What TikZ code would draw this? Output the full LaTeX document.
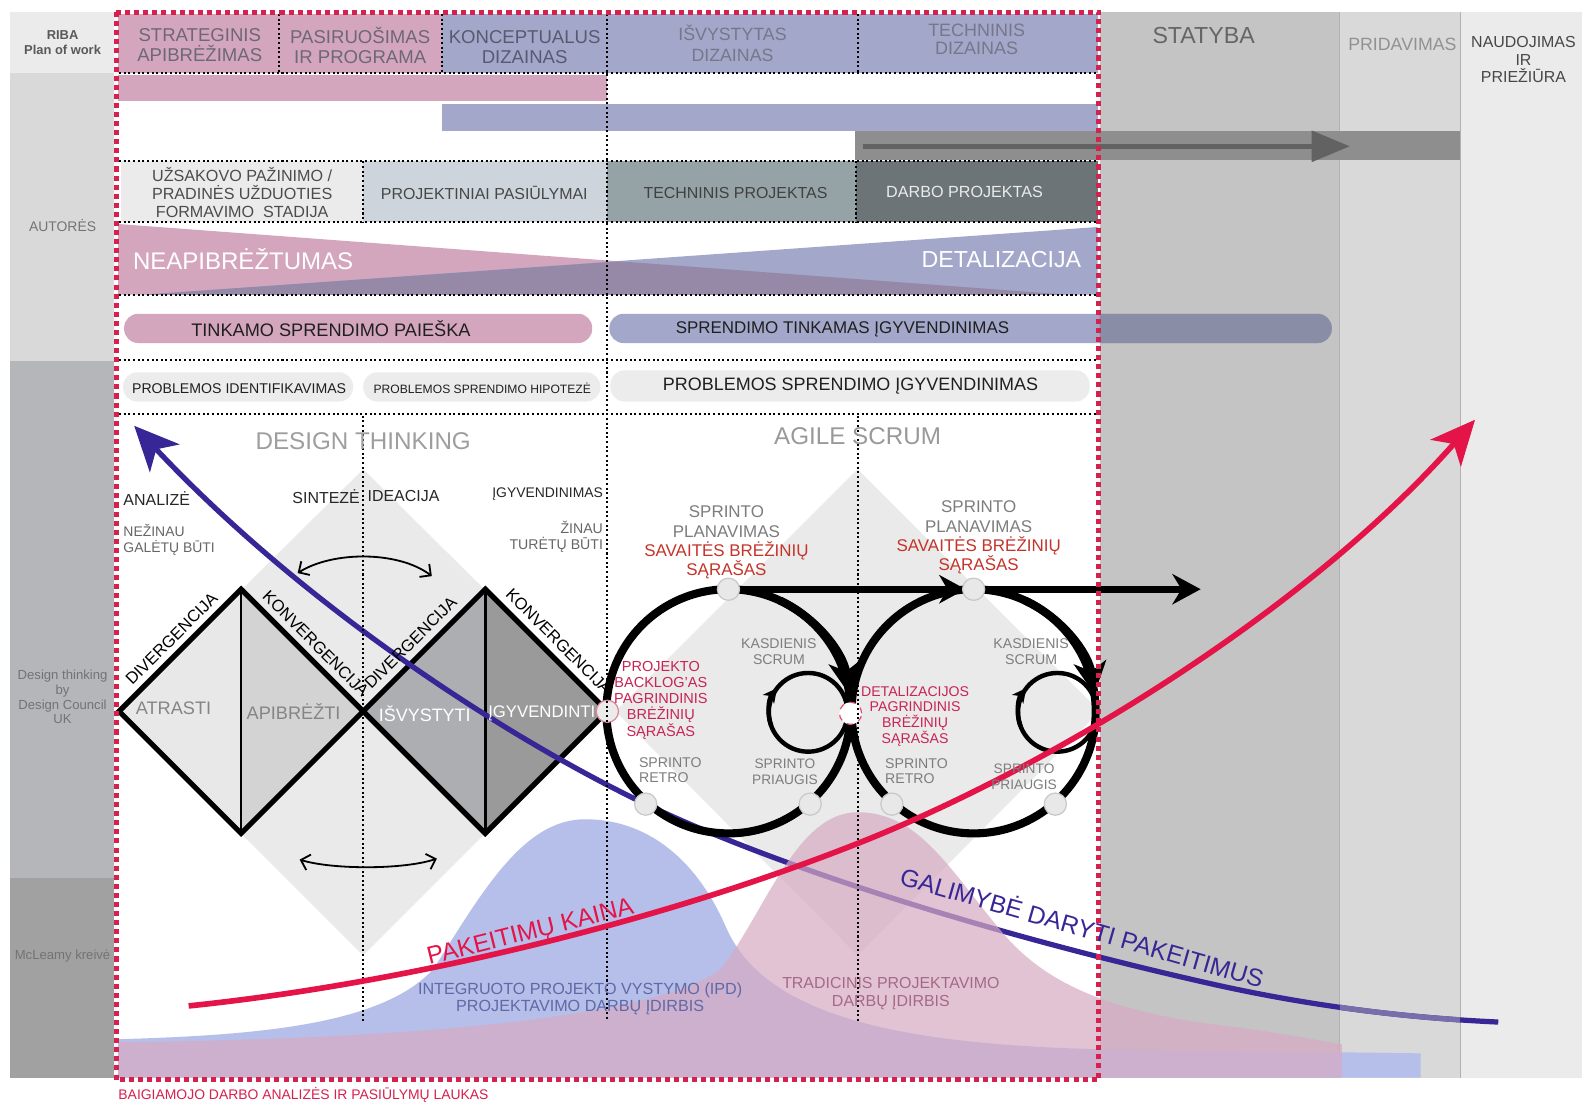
\documentclass[tikz,border=0pt]{standalone}
\usepackage{fontspec}
\setmainfont{Liberation Sans}
\usetikzlibrary{arrows.meta,calc}
\newcommand\fs[2]{\fontsize{#1}{#2}\selectfont}

\definecolor{framec}{RGB}{214,32,78}
\definecolor{redc}{RGB}{228,20,72}
\definecolor{indigoc}{RGB}{55,38,150}
\definecolor{indigolt}{RGB}{120,110,170}
\definecolor{pinkc}{RGB}{212,166,190}
\definecolor{lavc}{RGB}{163,167,202}
\definecolor{lavdark}{RGB}{137,142,166}
\definecolor{colA}{RGB}{235,235,235}
\definecolor{colB}{RGB}{217,217,217}
\definecolor{colC}{RGB}{196,196,196}
\definecolor{dtgray}{RGB}{180,182,186}
\definecolor{mcgray}{RGB}{161,161,161}
\definecolor{bandc}{RGB}{142,142,142}
\definecolor{bandarrow}{RGB}{98,98,98}
\definecolor{projblue}{RGB}{205,212,220}
\definecolor{techproj}{RGB}{150,163,166}
\definecolor{darbo}{RGB}{108,116,120}
\definecolor{overlapc}{RGB}{150,137,168}
\definecolor{pillgray}{RGB}{236,236,236}
\definecolor{ipdblue}{RGB}{181,191,234}
\definecolor{tradpink}{RGB}{215,170,195}
\definecolor{diamA}{RGB}{232,232,232}
\definecolor{diamB}{RGB}{211,211,211}
\definecolor{diamC}{RGB}{172,174,177}
\definecolor{diamD}{RGB}{154,154,154}
\definecolor{bgdiam}{RGB}{234,234,234}
\definecolor{nodefill}{RGB}{232,232,232}
\definecolor{nodeedge}{RGB}{200,200,200}
\definecolor{sprintred}{RGB}{196,52,42}
\definecolor{backlogc}{RGB}{200,35,85}
\definecolor{labgray}{RGB}{125,125,125}
\definecolor{hdrtxt}{RGB}{108,104,116}
\definecolor{hdrdark}{RGB}{88,90,112}
\definecolor{hdrlight}{RGB}{118,120,138}
\definecolor{ipdtxt}{RGB}{95,105,165}
\definecolor{tradtxt}{RGB}{165,105,135}

\tikzset{
  txt/.style={inner sep=0pt, align=center},
  dotl/.style={black, line width=1pt, dash pattern=on 1pt off 1.3pt},
  pill/.style={rounded corners=7pt},
  dotn/.style={circle, inner sep=0pt, minimum size=11pt, fill=nodefill, draw=nodeedge, line width=0.6pt},
  ring/.style={black, line width=4pt},
  loopline/.style={black, line width=2.2pt},
  bigtip/.style={-{Stealth[length=16pt,width=16pt,inset=4.5pt]}},
  looptip/.style={-{Stealth[length=7pt,width=7pt,inset=2pt]}},
  swing/.style={black, line width=0.9pt, {Straight Barb[length=4pt,width=8pt]}-{Straight Barb[length=4pt,width=8pt]}},
}

\begin{document}
\begin{tikzpicture}[x=0.5pt,y=-0.5pt]
\path[use as bounding box, fill=white] (0,0) rectangle (1568,1093);

% ---------- side columns ----------
\fill[colA] (10,12) rectangle (113,72);
\fill[colB] (10,72) rectangle (113,358);
\fill[dtgray] (10,358) rectangle (113,870);
\fill[mcgray] (10,870) rectangle (113,1068);
\fill[colC] (1090,12) rectangle (1328,1068);
\fill[colB] (1328,12) rectangle (1447,1068);
\fill[colA] (1447,12) rectangle (1568,1068);
\draw[black!30, line width=0.4pt] (1328,12) -- (1328,1068) (1447,12) -- (1447,1068);

% ---------- RIBA stages and bars ----------
\fill[pinkc] (117,14) rectangle (438,72);
\fill[lavc] (438,14) rectangle (1088,72);
\fill[pinkc] (117,74) rectangle (602,100);
\fill[lavc] (438,103) rectangle (1088,130);
\fill[bandc] (847,130) rectangle (1447,159);
\coordinate (bandS) at (855,145);
\coordinate (bandE) at (1338,145);
\draw[bandarrow, line width=2.6pt, -{Triangle[length=19pt,width=15pt]}] (bandS) -- (bandE);

% ---------- author's stages ----------
\fill[colA] (120,160) rectangle (360,220);
\fill[projblue] (360,160) rectangle (602,220);
\fill[techproj] (602,160) rectangle (848,220);
\fill[darbo] (848,160) rectangle (1088,220);

% uncertainty / detailing wedges
\fill[pinkc] (117,222) -- (1056,292) -- (117,292) -- cycle;
\fill[lavc] (1088,225) -- (1088,292) -- (143,292) -- cycle;
\fill[overlapc] (143,292) -- (614,259) -- (1056,292) -- cycle;

% pills
\fill[pinkc, pill] (123,311) rectangle (587,340);
\fill[lavc, pill] (604,311) rectangle (1320,340);
\begin{scope}
  \clip (1090,300) rectangle (1330,350);
  \fill[lavdark, pill] (604,311) rectangle (1320,340);
\end{scope}
\fill[pillgray, pill] (122,369) rectangle (350,398);
\fill[pillgray, pill] (360,369) rectangle (595,398);
\fill[pillgray, pill] (605,367) rectangle (1080,398);

% ---------- background diamonds ----------
\fill[bgdiam] (360,465) -- (602,705) -- (360,947) -- (118,705) -- cycle;
\fill[bgdiam] (850,465) -- (1090,705) -- (850,947) -- (610,705) -- cycle;

% ---------- IPD hill ----------
\fill[ipdblue] (117,1068) -- (117,1030) .. controls (260,1026) and (380,1015) .. (430,960)
  .. controls (480,880) and (520,812) .. (580,812)
  .. controls (640,812) and (690,850) .. (720,920)
  .. controls (760,1010) and (900,1035) .. (1090,1040) -- (1408,1044) -- (1408,1068) -- cycle;

% ---------- double diamond ----------
\coordinate (dL) at (118,705);
\coordinate (dT1) at (239,584);
\coordinate (dB1) at (239,826);
\coordinate (dM) at (360,705);
\coordinate (dT2) at (481,584);
\coordinate (dB2) at (481,826);
\coordinate (dR) at (602,705);
\fill[diamA] (dL) -- (dT1) -- (dB1) -- cycle;
\fill[diamB] (dT1) -- (dM) -- (dB1) -- cycle;
\fill[diamC] (dM) -- (dT2) -- (dB2) -- cycle;
\fill[diamD] (dT2) -- (dR) -- (dB2) -- cycle;
\draw[black, line width=2.6pt, line join=miter] (dL) -- (dT1) -- (dM) -- (dT2) -- (dR) -- (dB2) -- (dM) -- (dB1) -- cycle;
\draw[black, line width=1.2pt] (dT1) -- (dB1) (dT2) -- (dB2);
\coordinate (swTL) at (295,568);
\coordinate (swTR) at (428,571);
\coordinate (swBL) at (297,852);
\coordinate (swBR) at (433,851);
\draw[swing] (swTL) .. controls (330,546) and (395,546) .. (swTR);
\draw[swing] (swBL) .. controls (330,862) and (400,862) .. (swBR);

% ---------- possibility of change ----------
\coordinate (blueS) at (1485,1013);
\coordinate (blueE) at (133,422);
\draw[indigoc, line width=2.6pt, -{Stealth[length=22pt,width=20pt,inset=6pt]}] (blueS)
  .. controls (1420,1010) and (1320,1002) .. (1200,975)
  .. controls (1000,930) and (780,864) .. (640,797)
  .. controls (500,730) and (300,600) .. (blueE);
\begin{scope}
  \clip (1328,960) rectangle (1447,1040);
  \draw[indigolt, line width=2.6pt] (blueS) .. controls (1420,1010) and (1320,1002) .. (1200,975);
\end{scope}

% ---------- traditional hill ----------
\fill[tradpink, opacity=0.7] (117,1068) -- (117,1033) .. controls (400,1030) and (650,1010) .. (715,960)
  .. controls (760,900) and (790,805) .. (850,805)
  .. controls (910,805) and (940,860) .. (990,920)
  .. controls (1030,970) and (1090,1000) .. (1200,1015)
  .. controls (1260,1022) and (1300,1030) .. (1330,1035) -- (1330,1068) -- cycle;

% ---------- scrum cycles ----------
\coordinate (c1) at (722,705);
\coordinate (c2) at (965,705);
\draw[ring] (c1) circle[radius=121];
\draw[ring] (c2) circle[radius=121];
\draw[ring, bigtip] ($(c1)+(-65:121)$) arc[start angle=-65, end angle=-8, radius=121];
\draw[ring, bigtip] ($(c2)+(-65:121)$) arc[start angle=-65, end angle=-8, radius=121];
\coordinate (l1) at (801,706);
\coordinate (l2) at (1048,706);
\draw[loopline] (l1) circle[radius=39];
\draw[loopline] (l2) circle[radius=39];
\draw[loopline, looptip] ($(l1)+(160:39)$) arc[start angle=160, end angle=218, radius=39];
\draw[loopline, looptip] ($(l2)+(160:39)$) arc[start angle=160, end angle=218, radius=39];
\coordinate (hzS) at (722,584);
\coordinate (hzM) at (957,584);
\coordinate (hzE) at (1190,584);
\draw[black, line width=3.5pt] (hzS) -- (1170,584);
\draw[black, line width=3.5pt, -{Stealth[length=13pt,width=14pt,inset=4pt]}] (900,584) -- (hzM);
\draw[black, line width=3.5pt, -{Stealth[length=14pt,width=15pt,inset=4.5pt]}] (1100,584) -- (hzE);

\node[dotn] (top1) at (722,584) {};
\node[dotn] (top2) at (965,584) {};
\node[dotn, fill=colA, draw=pinkc!80!red] (start) at (602,705) {};
\node[dotn, fill=white, draw=framec!80, dashed] (join) at (843,707) {};
\node[dotn] (retro1) at (640,797) {};
\node[dotn] (gain1) at (803,797) {};
\node[dotn] (retro2) at (884,797) {};
\node[dotn] (gain2) at (1046,797) {};

% ---------- dotted grid ----------
\foreach \yy in {72,160,220,292,357,410} \draw[dotl] (118,\yy) -- (1088,\yy);
\draw[dotl] (277,14) -- (277,72);
\draw[dotl] (438,14) -- (438,72);
\draw[dotl] (602,14) -- (602,1012);
\draw[dotl] (850,14) -- (850,72) (848,160) -- (848,220) (850,412) -- (850,1012);
\draw[dotl] (360,160) -- (360,220) (360,412) -- (360,1012);

% ---------- thesis field frame ----------
\draw[framec, line width=2.5pt, dash pattern=on 2.5pt off 2pt] (115,12) rectangle (1089,1070);

% ---------- cost of change ----------
\coordinate (redS) at (187,997);
\coordinate (redE) at (1462,416);
\draw[redc, line width=2.8pt, -{Stealth[length=22pt,width=20pt,inset=6pt]}] (redS)
  .. controls (400,975) and (650,915) .. (850,836)
  .. controls (1050,757) and (1300,600) .. (redE);

% ---------- texts ----------
\node[txt, font=\bfseries\fs{6.4}{7.5}, text=black!65] (lRiba) at (62,42) {RIBA\\Plan of work};
\node[txt, font=\fs{6.9}{8}, text=black!55] (lAut) at (62,224) {AUTORĖS};
\node[txt, font=\fs{6.5}{7.3}, text=black!55] (lDT) at (62,691) {Design thinking\\by\\Design Council\\UK};
\node[txt, font=\fs{6.5}{7.5}, text=black!55] (lMc) at (62,948) {McLeamy kreivė};

\node[txt, font=\fs{9.2}{10}, text=hdrtxt] (hStrat) at (198,45) {STRATEGINIS\\APIBRĖŽIMAS};
\node[txt, font=\fs{9.2}{10}, text=hdrtxt] (hPrep) at (357,45) {PASIRUOŠIMAS\\IR PROGRAMA};
\node[txt, font=\fs{9.2}{10}, text=hdrdark] (hConc) at (520,47) {KONCEPTUALUS\\DIZAINAS};
\node[txt, font=\fs{8.8}{10}, text=hdrlight] (hDev) at (726,43) {IŠVYSTYTAS\\DIZAINAS};
\node[txt, font=\fs{8.9}{9}, text=hdrlight] (hTech) at (968,39) {TECHNINIS\\DIZAINAS};
\node[txt, font=\fs{11.5}{12}, text=black!60] (hBuild) at (1193,35) {STATYBA};
\node[txt, font=\fs{8.8}{10}, text=black!43] (hHand) at (1390,44) {PRIDAVIMAS};
\node[txt, font=\fs{7.9}{8.7}, text=black!72] (hUse) at (1510,59) {NAUDOJIMAS\\IR\\PRIEŽIŪRA};

\node[txt, font=\fs{8}{9}, text=black!70] (rBrief) at (240,191) {UŽSAKOVO PAŽINIMO /\\PRADINĖS UŽDUOTIES\\FORMAVIMO\ \ STADIJA};
\node[txt, font=\fs{7.9}{9}, text=black!72] (rProp) at (480,191) {PROJEKTINIAI PASIŪLYMAI};
\node[txt, font=\fs{7.9}{9}, text=black!75] (rTech) at (729,191) {TECHNINIS PROJEKTAS};
\node[txt, font=\fs{8}{9}, text=black!8] (rWork) at (956,190) {DARBO PROJEKTAS};

\node[txt, font=\fs{11.9}{13}, text=white] (wUnc) at (241,257) {NEAPIBRĖŽTUMAS};
\node[txt, font=\fs{11.5}{13}, text=white, anchor=east] (wDet) at (1072,257) {DETALIZACIJA};

\node[txt, font=\fs{9}{10}, text=black!88] (pSearch) at (328,326) {TINKAMO SPRENDIMO PAIEŠKA};
\node[txt, font=\fs{8.4}{10}, text=black!88] (pImpl) at (835,326) {SPRENDIMO TINKAMAS ĮGYVENDINIMAS};
\node[txt, font=\fs{7}{8}, text=black!88] (qIdent) at (237,385) {PROBLEMOS IDENTIFIKAVIMAS};
\node[txt, font=\fs{6}{7}, text=black!88] (qHyp) at (478,385) {PROBLEMOS SPRENDIMO HIPOTEZĖ};
\node[txt, font=\fs{8.9}{10}, text=black!88] (qImpl) at (843,383) {PROBLEMOS SPRENDIMO ĮGYVENDINIMAS};

\node[txt, font=\fs{12}{13}, text=black!38] (tDT) at (360,437) {DESIGN THINKING};
\node[txt, font=\fs{12}{13}, text=black!40] (tAS) at (850,432) {AGILE SCRUM};
\node[txt, font=\fs{7.9}{9}, text=black!85, anchor=west] (tAnal) at (122,494) {ANALIZĖ};
\node[txt, font=\fs{6.9}{8}, text=black!60, anchor=west, align=left] (tDont) at (122,535) {NEŽINAU\\GALĖTŲ BŪTI};
\node[txt, font=\fs{7.9}{9}, text=black!85, anchor=east] (tSynt) at (357,492) {SINTEZĖ};
\node[txt, font=\fs{7.9}{9}, text=black!85, anchor=west] (tIdea) at (364,492) {IDEACIJA};
\node[txt, font=\fs{6.9}{8}, text=black!85, anchor=east] (tImpl) at (598,490) {ĮGYVENDINIMAS};
\node[txt, font=\fs{7}{8}, text=black!60, anchor=east, align=right] (tKnow) at (598,532) {ŽINAU\\TURĖTŲ BŪTI};

\node[txt, font=\fs{9}{10}, text=black!48] (sFind) at (172,702) {ATRASTI};
\node[txt, font=\fs{9}{10}, text=black!48] (sDef) at (291,705) {APIBRĖŽTI};
\node[txt, font=\fs{8.9}{10}, text=white] (sDev) at (421,707) {IŠVYSTYTI};
\node[txt, font=\fs{8.3}{10}, text=white] (sDel) at (537,707) {ĮGYVENDINTI};
\node[txt, font=\fs{8.2}{9}, rotate=45] (eDiv1) at (170,633) {DIVERGENCIJA};
\node[txt, font=\fs{8.2}{9}, rotate=-45] (eCon1) at (313,638) {KONVERGENCIJA};
\node[txt, font=\fs{8.2}{9}, rotate=45] (eDiv2) at (407,637) {DIVERGENCIJA};
\node[txt, font=\fs{8.2}{9}, rotate=-45] (eCon2) at (554,636) {KONVERGENCIJA};

\node[txt, font=\fs{8.4}{9.5}, text=labgray] (kPlan1) at (720,517) {SPRINTO\\PLANAVIMAS};
\node[txt, font=\fs{8.4}{9.5}, text=sprintred] (kList1) at (720,555) {SAVAITĖS BRĖŽINIŲ\\SĄRAŠAS};
\node[txt, font=\fs{8.4}{9.5}, text=labgray] (kPlan2) at (970,512) {SPRINTO\\PLANAVIMAS};
\node[txt, font=\fs{8.4}{9.5}, text=sprintred] (kList2) at (970,550) {SAVAITĖS BRĖŽINIŲ\\SĄRAŠAS};
\node[txt, font=\fs{7}{8}, text=labgray] (kDaily1) at (772,646) {KASDIENIS\\SCRUM};
\node[txt, font=\fs{7}{8}, text=labgray] (kDaily2) at (1022,646) {KASDIENIS\\SCRUM};
\node[txt, font=\fs{7.2}{8}, text=backlogc] (kBack) at (655,694) {PROJEKTO\\BACKLOG'AS\\PAGRINDINIS\\BRĖŽINIŲ\\SĄRAŠAS};
\node[txt, font=\fs{7}{7.8}, text=backlogc] (kDetail) at (907,710) {DETALIZACIJOS\\PAGRINDINIS\\BRĖŽINIŲ\\SĄRAŠAS};
\node[txt, font=\fs{7}{7.6}, text=labgray, anchor=west, align=left] (kRetro1) at (633,763) {SPRINTO\\RETRO};
\node[txt, font=\fs{7}{7.6}, text=labgray, anchor=west, align=left] (kRetro2) at (877,764) {SPRINTO\\RETRO};
\node[txt, font=\fs{6.8}{7.6}, text=labgray] (kGain1) at (778,765) {SPRINTO\\PRIAUGIS};
\node[txt, font=\fs{6.8}{7.6}, text=labgray] (kGain2) at (1015,770) {SPRINTO\\PRIAUGIS};

\node[txt, font=\fs{12.2}{13}, text=indigoc, rotate=-16] (cPoss) at (1073,918) {GALIMYBĖ DARYTI PAKEITIMUS};
\node[txt, font=\fs{12.2}{13}, text=redc, rotate=14] (cCost) at (526,925) {PAKEITIMŲ KAINA};
\node[txt, font=\fs{8}{8.8}, text=ipdtxt] (cIPD) at (575,990) {INTEGRUOTO PROJEKTO VYSTYMO (IPD)\\PROJEKTAVIMO DARBŲ ĮDIRBIS};
\node[txt, font=\fs{7.9}{8.8}, text=tradtxt] (cTrad) at (883,985) {TRADICINIS PROJEKTAVIMO\\DARBŲ ĮDIRBIS};

\node[txt, font=\fs{6.9}{8}, text=framec, anchor=west] (fLabel) at (117,1085) {BAIGIAMOJO DARBO ANALIZĖS IR PASIŪLYMŲ LAUKAS};
\end{tikzpicture}
\end{document}
